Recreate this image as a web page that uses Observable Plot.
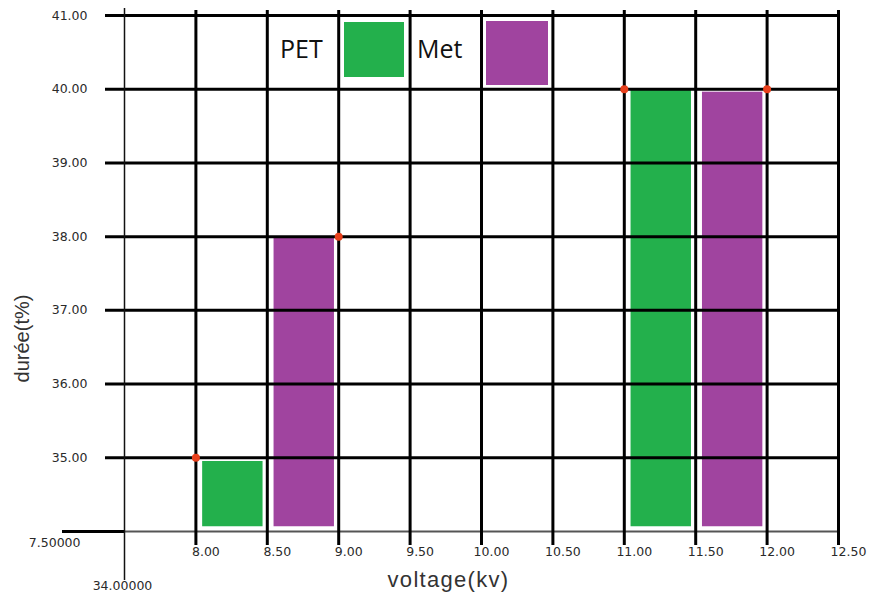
<!DOCTYPE html>
<html>
<head>
<meta charset="utf-8">
<script src="https://cdn.jsdelivr.net/npm/d3@7"></script>
<script src="https://cdn.jsdelivr.net/npm/@observablehq/plot@0.6"></script>
<style>
  html, body { margin: 0; padding: 0; background: #fff; }
  #wrap { position: relative; width: 872px; height: 603px; font-family: "Liberation Sans", Arial, sans-serif; }
  .leg-text { position: absolute; font-family: "Open Sans", "Liberation Sans", sans-serif; font-size: 25px; color: #111; line-height: 1; }
  .leg-box { position: absolute; box-sizing: border-box; border: 2px solid #fff; }
  .ticklab text { font-family: "DejaVu Sans", sans-serif; }
  .axtitle text { letter-spacing: 1.3px; }
</style>
</head>
<body>
<div id="wrap"></div>
<script>
// ---- data ----
const material = ["PET", "Met", "PET", "Met"];
const voltageStart = [8.0, 8.5, 11.0, 11.5];
const voltageEnd = [8.5, 9.0, 11.5, 12.0];
const duree = [34.96, 38.0, 40.0, 39.97];

const markerVoltage = [8.0, 9.0, 11.0, 12.0];
const markerDuree = [35.0, 38.0, 40.0, 40.0];

const xTicks = [8.0, 8.5, 9.0, 9.5, 10.0, 10.5, 11.0, 11.5, 12.0, 12.5];
const xTickLabels = ["8.00", "8.50", "9.00", "9.50", "10.00", "10.50", "11.00", "11.50", "12.00", "12.50"];
const yTicks = [35, 36, 37, 38, 39, 40, 41];
const yTickLabels = ["35.00", "36.00", "37.00", "38.00", "39.00", "40.00", "41.00"];
const xOrigin = [7.5];
const yOrigin = [34];
const xOriginLabel = ["34.00000"];
const yOriginLabel = ["7.50000"];

const legendNames = ["PET", "Met"];
const legendColors = ["#23b04c", "#a0449f"];

const xLabel = "voltage(kv)";
const yLabel = "durée(t%)";

// ---- build ----
const bars = material.map((m, i) => ({m, x1: voltageStart[i], x2: voltageEnd[i], y: duree[i]}));
const markers = markerVoltage.map((v, i) => ({x: v, y: markerDuree[i]}));
const colorOf = m => legendColors[legendNames.indexOf(m)];

const chart = Plot.plot({
  width: 872,
  height: 603,
  marginLeft: 124,
  marginRight: 34,
  marginTop: 15,
  marginBottom: 72,
  style: {fontFamily: "'Liberation Sans', Arial, sans-serif", background: "#fff"},
  x: {domain: [7.5, 12.5], axis: null},
  y: {domain: [34, 41], axis: null},
  marks: [
    // bars
    Plot.rectY(bars, {
      x1: "x1", x2: "x2", y1: 34, y2: "y",
      fill: d => colorOf(d.m),
      stroke: "#fff", strokeWidth: 1.5,
      insetLeft: 6, insetRight: 3.5, insetBottom: 4
    }),
    // horizontal grid lines with outward ticks
    Plot.ruleY(yTicks, {stroke: "#000", strokeWidth: 3, insetLeft: -19}),
    // baseline
    Plot.ruleY(yOrigin, {stroke: "#555", strokeWidth: 2}),
    Plot.ruleY(yOrigin, {stroke: "#000", strokeWidth: 3, insetLeft: -62, insetRight: 714}),
    // vertical grid lines with outward ticks
    Plot.ruleX(xTicks, {stroke: "#000", strokeWidth: 3, insetTop: -5, insetBottom: -14}),
    Plot.ruleX(xOrigin, {stroke: "#111", strokeWidth: 1.5, insetTop: -7, insetBottom: -49}),
    // tick labels
    Plot.text(yTicks, {
      y: d => d, text: (d, i) => yTickLabels[i],
      frameAnchor: "left", textAnchor: "end", dx: -37,
      fontSize: 12.5, fill: "#2a2a2a", className: "ticklab"
    }),
    Plot.text(xTicks, {
      x: d => d, text: (d, i) => xTickLabels[i],
      frameAnchor: "bottom", dx: 10, dy: 24,
      fontSize: 12.5, fill: "#2a2a2a", className: "ticklab"
    }),
    Plot.text(yOrigin, {
      y: d => d, text: (d, i) => yOriginLabel[i],
      frameAnchor: "left", textAnchor: "end", dx: -44, dy: 11,
      fontSize: 12.5, fill: "#2a2a2a", className: "ticklab"
    }),
    Plot.text(xOrigin, {
      x: d => d, text: (d, i) => xOriginLabel[i],
      frameAnchor: "bottom", dx: -2, dy: 58,
      fontSize: 12.5, fill: "#2a2a2a", className: "ticklab"
    }),
    // markers
    Plot.dot(markers, {x: "x", y: "y", r: 4, fill: "#e8401c", stroke: "none"}),
    // axis titles
    Plot.text([xLabel], {text: d => d, frameAnchor: "bottom", dx: -33, dy: 55, fontSize: 22, fill: "#333", className: "axtitle"}),
    Plot.text([yLabel], {text: d => d, frameAnchor: "left", textAnchor: "middle", dx: -102, dy: 65, rotate: -90, fontSize: 20, fill: "#333"})
  ]
});

const wrap = document.getElementById("wrap");
wrap.appendChild(chart);

// legend (drawn inside plot area, as in the reference)
const legendLayout = [
  {textLeft: 280, textTop: 36, boxLeft: 342, boxTop: 20, boxW: 64, boxH: 59},
  {textLeft: 417, textTop: 36, boxLeft: 484, boxTop: 19, boxW: 66, boxH: 68}
];
legendNames.forEach((name, i) => {
  const L = legendLayout[i];
  const t = document.createElement("div");
  t.className = "leg-text";
  t.style.left = L.textLeft + "px";
  t.style.top = L.textTop + "px";
  t.textContent = name;
  wrap.appendChild(t);
  const b = document.createElement("div");
  b.className = "leg-box";
  b.style.left = L.boxLeft + "px";
  b.style.top = L.boxTop + "px";
  b.style.width = L.boxW + "px";
  b.style.height = L.boxH + "px";
  b.style.background = legendColors[i];
  wrap.appendChild(b);
});
</script>
</body>
</html>
